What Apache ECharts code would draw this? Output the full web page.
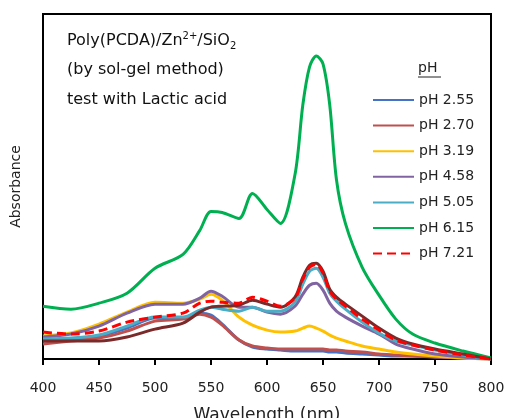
<!DOCTYPE html>
<html><head><meta charset="utf-8">
<script src="https://cdn.jsdelivr.net/npm/echarts@6/dist/echarts.min.js"></script>
<style>html,body{margin:0;padding:0;background:#fff}#c{width:505px;height:418px}</style>
</head><body><div id="c"></div>
<script>
const wavelengths = [400,425,450,475,500,525,540,550,560,575,587,600,612,625,632,638,644,650,656,662,670,685,700,715,730,750,775,800];
const pH255 = [18,20,23,31,41,41,46,44,35,19,12,10,9,8,8,8,8,8,7,7,6,5,4,3,3,2,1,0];
const pH270 = [15,18,21,28,38,40,45,42,34,19,13,11,10,10,10,10,10,10,9,9,8,7,5,4,3,2,1,0];
const pH319 = [23,26,35,47,57,56,60,65,59,42,34,29,27,28,31,33,31,28,24,21,18,13,10,7,5,3,1,0];
const pH458 = [22,25,33,46,55,55,61,68,63,52,52,47,45,53,65,74,76,69,56,48,42,33,25,15,10,5,2,0];
const pH505 = [20,21,24,33,42,42,49,52,50,48,52,48,48,57,75,88,91,82,66,58,50,37,26,18,14,9,4,0];
const pH615 = [53,50,56,66,91,105,129,148,147,141,166,150,136,185,255,293,304,296,255,180,136,92,64,40,25,16,8,1];
const pH721 = [27,25,28,37,42,46,56,58,57,56,62,58,53,61,80,92,95,86,68,60,53,40,29,19,14,9,4,0];
const extra = [18,18,18,22,30,36,47,52,53,54,59,55,52,62,82,94,96,88,70,62,55,43,31,21,15,10,5,0];
const xTicks = [400,450,500,550,600,650,700,750,800];

const seriesDefs = [
  {name:'pH 2.55', data:pH255, color:'#4472C4', type:'solid'},
  {name:'pH 2.70', data:pH270, color:'#C0504D', type:'solid'},
  {name:'pH 3.19', data:pH319, color:'#FFC000', type:'solid'},
  {name:'pH 4.58', data:pH458, color:'#8064A2', type:'solid'},
  {name:'pH 5.05', data:pH505, color:'#4BACC6', type:'solid'},
  {name:'pH 6.15', data:pH615, color:'#00B050', type:'solid'},
  {name:'', data:extra, color:'#7B2A2A', type:'solid'},
  {name:'pH 7.21', data:pH721, color:'#FF0000', type:'dashed'}
];
const font = 'DejaVu Sans, Liberation Sans, sans-serif';
const chart = echarts.init(document.getElementById('c'));
chart.setOption({
  animation:false,
  grid:{left:43,right:14,top:14,bottom:59,show:true,borderColor:'#000',borderWidth:2,backgroundColor:'transparent',
    containLabel:false,outerBoundsMode:'none'},
  xAxis:{type:'value',min:400,max:800,interval:50,
    name:'Wavelength (nm)',nameLocation:'middle',nameGap:48,
    nameTextStyle:{fontFamily:font,fontSize:17,color:'#222'},
    axisLine:{lineStyle:{color:'#000',width:2}},
    axisTick:{show:true,length:6,lineStyle:{color:'#000',width:2}},
    axisLabel:{fontFamily:font,fontSize:14,color:'#222',margin:22,
      formatter:v=>xTicks.includes(v)?String(v):''},
    splitLine:{show:false}},
  yAxis:{type:'value',min:0,max:346,
    name:'Absorbance',nameLocation:'middle',nameGap:20,
    nameTextStyle:{fontFamily:font,fontSize:14,color:'#222'},
    axisLine:{show:true,lineStyle:{color:'#000',width:2}},
    axisTick:{show:false},axisLabel:{show:false},splitLine:{show:false}},
  legend:{orient:'vertical',left:372,top:93,padding:0,itemWidth:41,itemHeight:14,itemGap:11.6,
    data:seriesDefs.filter(s=>s.name).map(s=>s.name),
    itemStyle:{opacity:0},
    textStyle:{fontFamily:font,fontSize:14,color:'#222'}},
  title:[
    {left:67,top:31,padding:0,text:'{n|Poly(PCDA)/Zn}{sup|2+}{n|/SiO}{sub|2}',
      textStyle:{rich:{n:{fontFamily:font,fontSize:16,fontWeight:'normal',color:'#111',lineHeight:20},
        sup:{fontFamily:font,fontSize:10,fontWeight:'normal',color:'#111',verticalAlign:'top',lineHeight:20},
        sub:{fontFamily:font,fontSize:10,fontWeight:'normal',color:'#111',verticalAlign:'bottom',lineHeight:20}}}},
    {left:67,top:62,padding:0,text:'(by sol-gel method)',textStyle:{fontFamily:font,fontSize:16,fontWeight:'normal',color:'#111'}},
    {left:67,top:92,padding:0,text:'test with Lactic acid',textStyle:{fontFamily:font,fontSize:16,fontWeight:'normal',color:'#111'}},
    {left:418,top:61,padding:0,text:'pH',textStyle:{fontFamily:font,fontSize:14,fontWeight:'normal',color:'#222'}}
  ],
  graphic:[{type:'line',shape:{x1:418,y1:77,x2:441,y2:77},style:{stroke:'#222',lineWidth:1}}],
  series:seriesDefs.map(s=>({
    name:s.name,type:'line',smooth:0.3,symbol:'none',
    data:wavelengths.map((w,i)=>[w,s.data[i]]),
    lineStyle:{color:s.color,width:3,type:s.type==='dashed'?[9,5]:'solid'},
    itemStyle:{color:s.color}
  }))
});
</script></body></html>
